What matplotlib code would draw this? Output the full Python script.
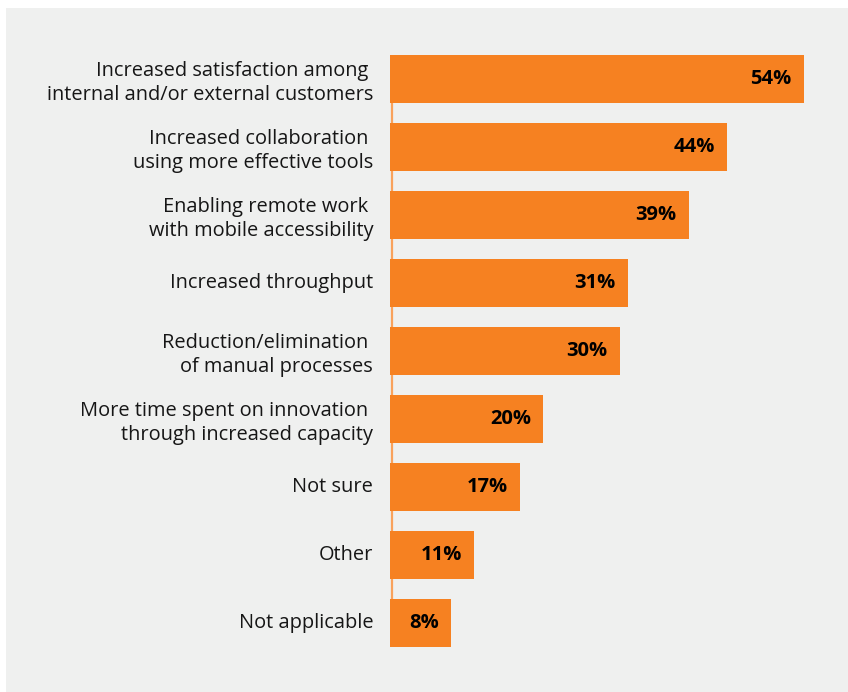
import matplotlib.pyplot as plt

# Survey results, top to bottom
labels = [
    "Increased satisfaction among \ninternal and/or external customers",
    "Increased collaboration \nusing more effective tools",
    "Enabling remote work \nwith mobile accessibility",
    "Increased throughput",
    "Reduction/elimination \nof manual processes",
    "More time spent on innovation \nthrough increased capacity",
    "Not sure",
    "Other",
    "Not applicable",
]
values = [54, 44, 39, 31, 30, 20, 17, 11, 8]

ORANGE = "#f68121"
BG = "#eff0ef"

plt.rcParams['font.family'] = ['Open Sans', 'DejaVu Sans']

W, H = 848, 692
fig = plt.figure(figsize=(W / 100, H / 100), dpi=100)
fig.patch.set_facecolor("white")

# gray panel behind everything
panel = plt.Rectangle((6 / W, 0), 1 - 6 / W, 1 - 8 / H, transform=fig.transFigure,
                      facecolor=BG, edgecolor="none", zorder=-5)
fig.add_artist(panel)

ax = fig.add_axes([390 / W, 1 - 657 / H, (840 - 390) / W, (657 - 45) / H])
ax.set_facecolor("none")

pos = list(range(len(values)))
ax.barh(pos, values, height=0.706, color=ORANGE, zorder=2)
ax.plot([0.2, 0.2], [-0.35, len(values) - 0.65], color="#f9a25c", lw=1.6, zorder=1,
        solid_capstyle="butt")

ax.set_xlim(0, 58.7)
ax.set_ylim(len(values) - 0.5, -0.5)

for p, v, lab in zip(pos, values, labels):
    ax.text(v - 1.6, p, f"{v}%", ha="right", va="center", fontsize=14.5,
            fontweight="bold", color="black", zorder=3)
    # two-line labels sit a little low
    dy = 0.06 if "\n" in lab else 0.0
    ax.text(-2.2, p + dy, lab, ha="right", va="center", fontsize=14.4,
            color="#161616", linespacing=1.26)

for s in ax.spines.values():
    s.set_visible(False)
ax.set_xticks([])
ax.set_yticks([])

fig.savefig("out.png", dpi=100)
